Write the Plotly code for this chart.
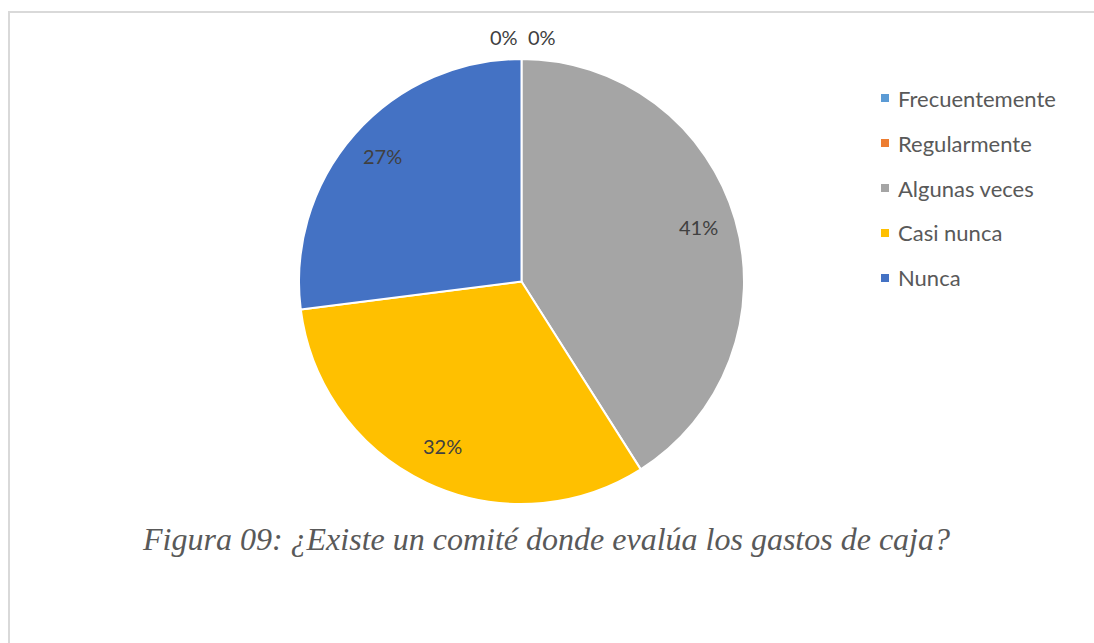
import math
import plotly.graph_objects as go

# Survey answers and their shares (%)
categorias = ["Frecuentemente", "Regularmente", "Algunas veces", "Casi nunca", "Nunca"]
porcentajes = [0, 0, 41, 32, 27]
colores = ["#5B9BD5", "#ED7D31", "#A5A5A5", "#FFC000", "#4472C4"]
titulo = "Figura 09: ¿Existe un comité donde evalúa los gastos de caja?"

W, H = 1094, 643
cx, cy, R = 521.5, 281.5, 222.5  # pie centre and radius in pixels


def px(x):
    return x / W


def py(y):
    return 1 - y / H


fig = go.Figure(
    go.Pie(
        labels=categorias,
        values=porcentajes,
        marker=dict(colors=colores, line=dict(color="white", width=2)),
        sort=False,
        direction="clockwise",
        rotation=0,
        textinfo="none",
        hoverinfo="label+percent",
        showlegend=False,
        domain=dict(x=[px(cx - R), px(cx + R)], y=[py(cy + R), py(cy - R)]),
    )
)

annotations = []

# Percentage labels placed along each slice's mid-angle
total = sum(porcentajes)
acum = 0
zero_offsets = [-18, 20]
zi = 0
for val in porcentajes:
    frac = val / total
    if val == 0:
        x = cx + zero_offsets[zi % 2]
        y = cy - R - 22
        zi += 1
    else:
        ang = 2 * math.pi * (acum + frac / 2)
        r = 0.83 * R
        x = cx + r * math.sin(ang)
        y = cy - r * math.cos(ang) - 3
    acum += frac
    annotations.append(
        dict(
            x=px(x), y=py(y), xref="paper", yref="paper",
            text=f"{val}%", showarrow=False,
            font=dict(family="Lato", size=20, color="#404040"),
            xanchor="center", yanchor="middle",
        )
    )

# Legend: colour squares with category names
shapes = []
leg_x, leg_y0, leg_dy = 881, 98, 45
for i, (cat, col) in enumerate(zip(categorias, colores)):
    y = leg_y0 + i * leg_dy
    shapes.append(
        dict(
            type="rect", xref="paper", yref="paper",
            x0=px(leg_x), x1=px(leg_x + 8), y0=py(y + 4), y1=py(y - 4),
            fillcolor=col, line=dict(width=0),
        )
    )
    annotations.append(
        dict(
            x=px(leg_x + 15), y=py(y), xref="paper", yref="paper",
            text=cat, showarrow=False,
            font=dict(family="Lato", size=22, color="#595959"),
            xanchor="left", yanchor="middle",
        )
    )

# Caption below the pie
annotations.append(
    dict(
        x=px(546), y=py(539), xref="paper", yref="paper",
        text=f"<i>{titulo}</i>", showarrow=False,
        font=dict(family="Liberation Serif", size=32, color="#595959"),
        xanchor="center", yanchor="middle",
    )
)

# Chart frame
shapes.append(
    dict(
        type="rect", xref="paper", yref="paper",
        x0=px(9), x1=1.05, y0=-0.05, y1=py(12),
        line=dict(color="#D9D9D9", width=2), fillcolor="rgba(0,0,0,0)",
    )
)

fig.update_layout(
    width=W, height=H,
    margin=dict(l=0, r=0, t=0, b=0),
    paper_bgcolor="white",
    plot_bgcolor="white",
    annotations=annotations,
    shapes=shapes,
)

fig.write_html("out.html")
